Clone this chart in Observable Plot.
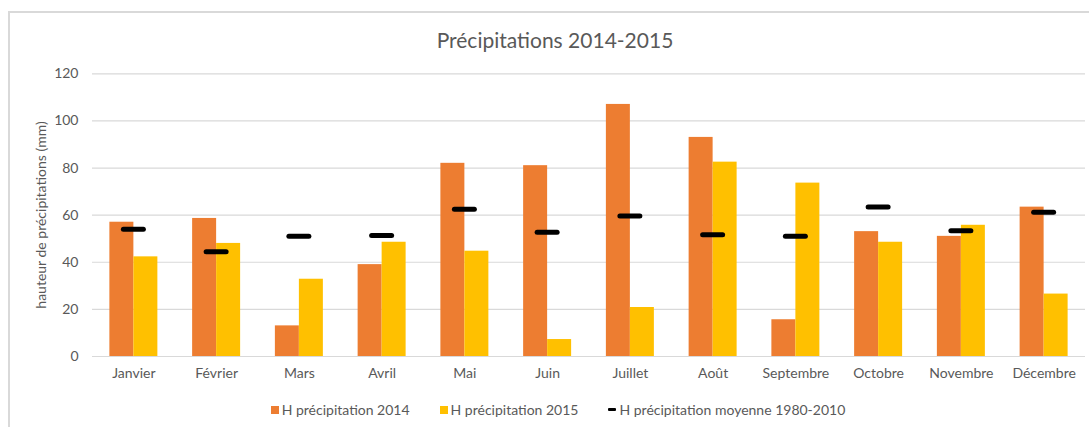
<!DOCTYPE html>
<html>
<head>
<meta charset="utf-8">
<script src="https://cdn.jsdelivr.net/npm/d3@7"></script>
<script src="https://cdn.jsdelivr.net/npm/@observablehq/plot@0.6"></script>
<style>
  html, body { margin: 0; padding: 0; background: #fff; }
  #root { position: relative; width: 1089px; height: 427px; overflow: hidden; font-family: Lato, "Open Sans", sans-serif; color: #595959; }
  #frame { position: absolute; left: 8px; top: 11px; width: 1200px; height: 500px; border-left: 2px solid #d9d9d9; border-top: 2px solid #d9d9d9; }
  #title { position: absolute; left: 0; width: 1110px; top: 27px; text-align: center; font-size: 21px; color: #595959; }
  #chart { position: absolute; left: 0; top: 50px; }
  #ylabel { position: absolute; left: 40px; top: 215px; transform: translate(-50%, -50%) rotate(-90deg); white-space: nowrap; font-size: 14px; color: #595959; }
  #legend { position: absolute; left: 0; width: 1116px; top: 401px; display: flex; justify-content: center; gap: 30px; font-size: 14px; color: #595959; }
  .item { display: flex; align-items: center; gap: 3px; }
  .sw { width: 8px; height: 8px; display: inline-block; }
  .dash { width: 8px; height: 3px; background: #000; display: inline-block; border-radius: 1px; }
</style>
</head>
<body>
<div id="root">
  <div id="frame"></div>
  <div id="title">Précipitations 2014-2015</div>
  <div id="chart"></div>
  <div id="ylabel">hauteur de précipitations (mm)</div>
  <div id="legend"></div>
</div>
<script>
const months = ["Janvier","Février","Mars","Avril","Mai","Juin","Juillet","Août","Septembre","Octobre","Novembre","Décembre"];
const precip2014 = [57, 58.6, 13, 39, 82, 81, 107, 93, 15.6, 53, 51, 63.4];
const precip2015 = [42.3, 48, 32.8, 48.5, 44.7, 7.2, 20.8, 82.5, 73.6, 48.5, 55.7, 26.5];
const precipAvg = [54, 44.5, 51, 51.4, 62.5, 52.7, 59.6, 51.7, 51, 63.5, 53.4, 61.2];
const yTicks = [0, 20, 40, 60, 80, 100, 120];
const seriesNames = ["H précipitation 2014", "H précipitation 2015", "H précipitation moyenne 1980-2010"];
const colors = ["#ED7D31", "#FFC000", "#000000"];

const rows = months.map((m, i) => ({month: m, v14: precip2014[i], v15: precip2015[i], avg: precipAvg[i]}));

const chart = Plot.plot({
  width: 1089,
  height: 345,
  marginTop: 23.3,
  marginBottom: 39,
  marginLeft: 92,
  marginRight: 4,
  style: {fontFamily: "Lato, 'Open Sans', sans-serif", fontSize: "14px", color: "#595959", background: "transparent"},
  x: {domain: months, paddingInner: 0.42, paddingOuter: 0.21, round: false, label: null},
  y: {domain: [0, 120], label: null},
  marks: [
    Plot.ruleY(yTicks, {stroke: "#d9d9d9", strokeWidth: 1.2}),
    Plot.barY(rows, {x: "month", y: "v14", fill: colors[0], insetRight: 24, insetLeft: 0}),
    Plot.barY(rows, {x: "month", y: "v15", fill: colors[1], insetLeft: 24, insetRight: 0}),
    Plot.tickY(rows, {x: "month", y: "avg", stroke: colors[2], strokeWidth: 5, insetLeft: 14, insetRight: 14, strokeLinecap: "round"}),
    Plot.axisY(yTicks, {tickSize: 0, tickPadding: 14, fontSize: 14, fill: "#595959", label: null}),
    Plot.axisX({tickSize: 0, tickPadding: 12, fontSize: 14, fill: "#595959", label: null})
  ]
});
document.getElementById("chart").appendChild(chart);

const legend = document.getElementById("legend");
seriesNames.forEach((name, i) => {
  const it = document.createElement("div");
  it.className = "item";
  const sw = document.createElement("span");
  if (i < 2) { sw.className = "sw"; sw.style.background = colors[i]; }
  else { sw.className = "dash"; }
  const t = document.createElement("span");
  t.textContent = name;
  it.appendChild(sw); it.appendChild(t);
  legend.appendChild(it);
});
</script>
</body>
</html>
